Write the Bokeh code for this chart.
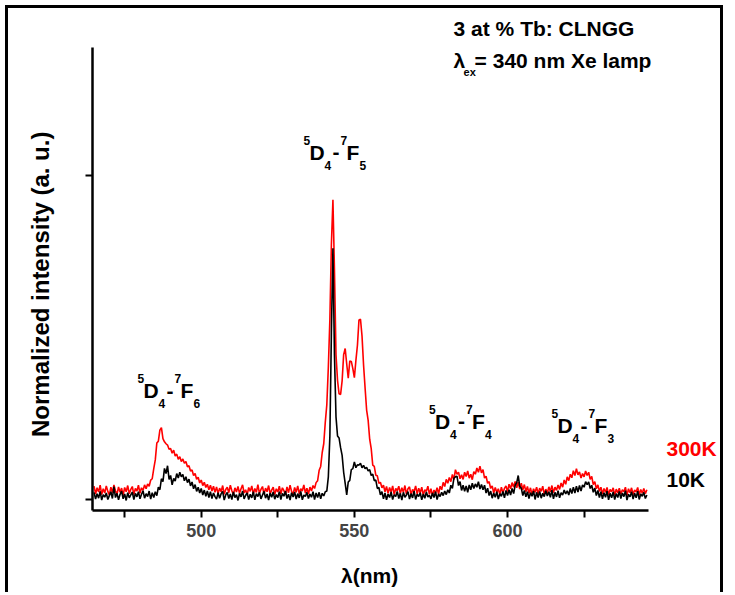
import numpy as np
from bokeh.plotting import figure
from bokeh.models import Label, FixedTicker, Range1d, LinearAxis
from bokeh.embed import file_html
from bokeh.resources import INLINE

# ---- data (normalized intensity in permille; sampled every 0.5 nm from 465 nm) ----
wl_start = 465.0
wl_step = 0.5

red_300K = [
    41, 17, 36, 23, 44, 15, 33, 20, 42, 25, 14, 38, 21, 45, 27, 16, 39, 22, 35, 13,
    37, 24, 43, 18, 31, 40, 15, 34, 26, 44, 19, 36, 28, 45, 33, 48, 41, 60, 64, 95,
    122, 174, 180, 214, 222, 188, 178, 172, 168, 155, 157, 143, 152, 134, 140, 124, 132, 117, 125, 112,
    117, 101, 104, 88, 91, 74, 80, 62, 69, 51, 60, 43, 53, 37, 47, 30, 44, 26, 41, 22,
    39, 18, 35, 24, 43, 16, 31, 38, 21, 44, 27, 15, 36, 23, 40, 19, 33, 45, 20, 30,
    14, 37, 25, 42, 17, 34, 22, 46, 19, 31, 40, 16, 35, 24, 43, 18, 29, 38, 15, 33,
    23, 41, 17, 36, 27, 14, 39, 21, 44, 25, 16, 37, 22, 42, 18, 33, 26, 45, 20, 35,
    17, 38, 26, 43, 34, 52, 58, 90, 102, 145, 172, 238, 292, 408, 555, 788, 925, 708, 447, 368,
    326, 324, 366, 447, 466, 418, 374, 427, 426, 404, 376, 429, 476, 554, 556, 504, 415, 344, 276, 244,
    186, 157, 106, 102, 75, 73, 50, 53, 36, 44, 24, 40, 19, 37, 23, 42, 15, 34, 27, 41,
    18, 36, 22, 43, 16, 33, 39, 14, 31, 24, 42, 17, 35, 21, 38, 13, 30, 25, 41, 16,
    33, 12, 29, 20, 36, 17, 41, 30, 53, 40, 62, 50, 68, 55, 77, 61, 92, 78, 84, 64,
    76, 62, 84, 71, 88, 66, 78, 61, 86, 78, 97, 84, 103, 82, 92, 66, 72, 50, 55, 34,
    42, 20, 37, 22, 33, 15, 38, 21, 34, 42, 24, 47, 33, 52, 38, 56, 36, 54, 32, 50,
    30, 46, 24, 40, 19, 36, 14, 33, 22, 38, 17, 35, 25, 41, 16, 32, 20, 39, 24, 43,
    21, 38, 28, 45, 31, 51, 38, 60, 47, 70, 58, 78, 67, 89, 74, 95, 76, 85, 66, 80,
    70, 88, 74, 84, 62, 71, 46, 55, 33, 45, 25, 38, 17, 34, 22, 37, 14, 31, 24, 36,
    13, 32, 20, 35, 16, 30, 24, 38, 12, 33, 21, 36, 15, 29, 23, 37, 14, 31, 19, 34,
    18, 30,
]

black_10K = [
    22, 1, 18, 4, 25, -2, 15, 7, 20, 0, 12, 24, 3, 40, 6, 19, -1, 16, 26, 2,
    17, -3, 21, 5, 14, 23, 0, 19, 8, 24, 2, 16, 27, 4, 18, 9, 26, 1, 21, 6,
    24, 12, 38, 30, 64, 55, 96, 80, 104, 62, 74, 45, 65, 57, 80, 66, 84, 70, 77, 58,
    70, 52, 63, 42, 54, 33, 46, 25, 38, 20, 34, 14, 29, 10, 26, 6, 24, 3, 20, 9,
    1, 21, 4, 18, 25, -2, 14, 22, 3, 17, 0, 23, 6, 15, -3, 19, 8, 26, 2, 13,
    20, 0, 16, 5, 24, -1, 18, 9, 22, 2, 14, 25, 4, 17, -2, 20, 7, 23, 1, 15,
    6, 24, 0, 19, 10, 26, 3, 16, -2, 21, 8, 23, 1, 18, 5, 25, -1, 14, 9, 22,
    3, 17, 7, 24, 0, 20, 6, 22, 2, 19, 11, 24, 26, 70, 195, 515, 775, 445, 255, 196,
    190, 160, 136, 84, 50, 14, 54, 59, 92, 95, 116, 98, 107, 106, 112, 98, 105, 95, 99, 88,
    92, 74, 78, 58, 60, 34, 37, 14, 24, 2, 20, -1, 17, 6, 23, 0, 15, 9, 25, 3,
    19, -2, 22, 7, 14, 24, 1, 18, 5, 26, 0, 16, 9, 21, -1, 17, 4, 23, 8, 13,
    2, 20, 6, 24, 0, 17, 9, 22, 12, 26, 15, 30, 20, 44, 34, 66, 70, 72, 43, 55,
    28, 44, 25, 42, 22, 45, 30, 50, 34, 48, 38, 55, 32, 46, 30, 44, 20, 35, 12, 26,
    4, 20, 7, 24, 1, 18, 10, 25, 5, 28, 12, 30, 14, 34, 18, 44, 52, 74, 40, 35,
    12, 28, 8, 24, 3, 21, 10, 26, 0, 22, 6, 25, 4, 19, 9, 27, 11, 24, 7, 29,
    2, 22, 8, 27, 5, 21, 14, 29, 17, 27, 14, 34, 18, 38, 20, 41, 23, 43, 26, 45,
    38, 55, 46, 54, 34, 44, 22, 35, 12, 28, 6, 24, 2, 21, 7, 26, -1, 19, 5, 23,
    0, 18, 6, 25, 3, 20, 9, 27, -2, 16, 8, 24, 1, 19, 5, 26, 0, 17, 10, 22,
    3, 14,
]

x_major_ticks = [500, 550, 600]
x_minor_ticks = [475, 525, 575, 625]
y_ticks = [0, 1000]

series_names = ["300K", "10K"]
series_colors = ["#FF0000", "#000000"]

x_title = "λ(nm)"
y_title = "Normalized intensity (a. u.)"

# transition labels  5D4-7FJ
trans_J = ["6", "5", "4", "3"]
trans_x = [479.2, 533.4, 574.4, 614.4]
trans_y = [305, 1040, 211, 196]

wl_red = np.arange(len(red_300K)) * wl_step + wl_start
wl_black = np.arange(len(black_10K)) * wl_step + wl_start

FONT = "Liberation Sans"

# axis extents (data) and full frame extents
X_AXIS = (464.5, 646.0)
Y_AXIS = (-34.0, 1395.0)
# where the axis titles are centred (data units)
X_TITLE_AT = 555
Y_TITLE_AT = 664

p = figure(width=718, height=587, output_backend="svg", toolbar_location=None,
           x_range=Range1d(464.5, 671.5), y_range=Range1d(-34, 1515),
           min_border_left=84, min_border_right=0, min_border_top=0, min_border_bottom=85,
           background_fill_color="white", border_fill_color="white")
p.styles = {"margin-left": "5px", "margin-top": "5px",
            "border-left": "3px solid black", "border-top": "3px solid black",
            "border-right": "3px solid black"}
p.outline_line_color = None
p.grid.visible = False

p.line(wl_red, red_300K, line_color=series_colors[0], line_width=1.6)
p.line(wl_black, black_10K, line_color=series_colors[1], line_width=1.6)

xa = p.xaxis[0]
xa.bounds = X_AXIS
xa.ticker = FixedTicker(ticks=x_major_ticks, minor_ticks=x_minor_ticks)
xa.major_label_text_font = FONT
xa.major_label_text_font_style = "bold"
xa.major_label_text_font_size = "18px"
xa.major_label_standoff = 6
xa.axis_line_width = 2.5
xa.major_tick_line_width = 2
xa.minor_tick_line_width = 2
xa.major_tick_in = 0
xa.major_tick_out = 7
xa.minor_tick_in = 0
xa.minor_tick_out = 7

ya = p.yaxis[0]
ya.bounds = Y_AXIS
ya.ticker = FixedTicker(ticks=y_ticks, minor_ticks=[])
ya.major_label_overrides = {0: "", 1000: ""}
ya.major_label_standoff = 30
ya.axis_line_width = 2.5
ya.major_tick_line_width = 2
ya.major_tick_in = 0
ya.major_tick_out = 7


def title_axis(at, text, size, standoff, orientation):
    # a bare axis whose single label is the axis title, centred where wanted
    return LinearAxis(ticker=FixedTicker(ticks=[at], minor_ticks=[]),
                      major_label_overrides={at: text},
                      axis_line_color=None, major_tick_line_color=None,
                      minor_tick_line_color=None, major_tick_in=0, major_tick_out=0,
                      minor_tick_out=0, major_label_standoff=standoff,
                      major_label_orientation=orientation,
                      major_label_text_font=FONT, major_label_text_font_style="bold",
                      major_label_text_font_size=f"{size}px",
                      major_label_text_color="black")


p.add_layout(title_axis(X_TITLE_AT, x_title, 21, 24, "horizontal"), "below")
p.add_layout(title_axis(Y_TITLE_AT, y_title, 24, 31, "parallel"), "left")


def add_text(x, y, text, size, dx=0, dy=0, color="black"):
    # small vertical correction so the glyph baseline sits where intended
    corr = 10 if size >= 18 else 5
    p.add_layout(Label(x=x, y=y, x_offset=dx, y_offset=dy + corr, text=text,
                       text_font=FONT, text_font_style="bold",
                       text_font_size=f"{size}px", text_color=color,
                       text_align="left", text_baseline="alphabetic"))


BIG, SMALL = 21, 12
for J, tx, ty in zip(trans_J, trans_x, trans_y):
    add_text(tx, ty, "5", SMALL, 0, 17)
    add_text(tx, ty, "D", BIG, 6, 0)
    add_text(tx, ty, "4", SMALL, 21, -8)
    add_text(tx, ty, "-", BIG, 29, 0)
    add_text(tx, ty, "7", SMALL, 37, 17)
    add_text(tx, ty, "F", BIG, 43, 0)
    add_text(tx, ty, J, SMALL, 56, -8)

# header text
add_text(582.4, 1423, "3 at % Tb: CLNGG", 21)
add_text(582.4, 1324, "λ", 21)
add_text(582.4, 1324, "ex", 11, 10, -7)
add_text(582.4, 1324, "= 340 nm Xe lamp", 21, 21, 0)

# series names
add_text(651.9, 127, series_names[0], 21, color=series_colors[0])
add_text(651.9, 31, series_names[1], 21, color=series_colors[1])

open("out.html", "w").write(file_html(p, INLINE))
